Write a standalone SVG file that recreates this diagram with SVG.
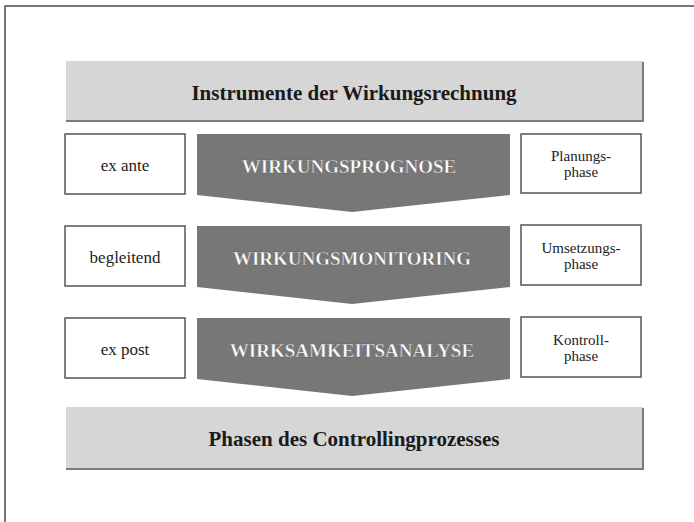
<svg xmlns="http://www.w3.org/2000/svg" width="694" height="522" viewBox="0 0 694 522">
<style>
  .frame { fill: none; stroke: #4a4a4a; stroke-width: 1.5; }
  .banner { fill: #d6d6d6; }
  .shadow { fill: none; stroke: #7a7a7a; stroke-width: 2; }
  .btext { font-family: "Liberation Serif", "Times New Roman", serif; font-weight: bold; font-size: 21px; fill: #1a1a1a; text-anchor: middle; dominant-baseline: central; }
  .box { fill: #ffffff; stroke: #555555; stroke-width: 1.5; }
  .ltext { font-family: "Liberation Serif", "Times New Roman", serif; font-size: 17px; fill: #222222; text-anchor: middle; dominant-baseline: central; }
  .rtext { font-family: "Liberation Serif", "Times New Roman", serif; font-size: 15px; fill: #222222; text-anchor: middle; dominant-baseline: central; }
  .arrow { fill: #777777; }
  .atext { font-family: "Liberation Serif", "Times New Roman", serif; font-weight: bold; font-size: 19px; fill: #ffffff; stroke: #5a5a5a; stroke-width: 0.4; text-anchor: middle; dominant-baseline: central; }
</style>
<rect width="694" height="522" fill="#ffffff"/>
<rect class="frame" x="5" y="6" width="720" height="540"/>

<g id="banner-top">
  <rect class="banner" x="66" y="61" width="577" height="60"/>
  <polyline class="shadow" points="643,62 643,121 66,121"/>
  <text class="btext" x="354" y="93">Instrumente der Wirkungsrechnung</text>
</g>

<g id="ex-ante">
  <rect class="box" x="65" y="134" width="120" height="60"/>
  <text class="ltext" x="125" y="165">ex ante</text>
</g>
<g id="wirkungsprognose">
  <polygon class="arrow" points="197,134 510,134 510,195 352,212 197,195"/>
  <text class="atext" x="349" y="166">WIRKUNGSPROGNOSE</text>
</g>
<g id="planungsphase">
  <rect class="box" x="521" y="134" width="120" height="59"/>
  <text class="rtext" x="581" y="156">Planungs-</text>
  <text class="rtext" x="581" y="172">phase</text>
</g>

<g id="begleitend">
  <rect class="box" x="65" y="226" width="120" height="60"/>
  <text class="ltext" x="125" y="257">begleitend</text>
</g>
<g id="wirkungsmonitoring">
  <polygon class="arrow" points="197,226 510,226 510,287 352,304 197,287"/>
  <text class="atext" x="352" y="258">WIRKUNGSMONITORING</text>
</g>
<g id="umsetzungsphase">
  <rect class="box" x="521" y="225" width="120" height="60"/>
  <text class="rtext" x="581" y="248">Umsetzungs-</text>
  <text class="rtext" x="581" y="264">phase</text>
</g>

<g id="ex-post">
  <rect class="box" x="65" y="318" width="120" height="60"/>
  <text class="ltext" x="125" y="349">ex post</text>
</g>
<g id="wirksamkeitsanalyse">
  <polygon class="arrow" points="197,318 510,318 510,379 352,396 197,379"/>
  <text class="atext" x="352" y="350">WIRKSAMKEITSANALYSE</text>
</g>
<g id="kontrollphase">
  <rect class="box" x="521" y="317" width="120" height="60"/>
  <text class="rtext" x="581" y="340">Kontroll-</text>
  <text class="rtext" x="581" y="356">phase</text>
</g>

<g id="banner-bottom">
  <rect class="banner" x="66" y="407" width="577" height="62"/>
  <polyline class="shadow" points="643,408 643,469 66,469"/>
  <text class="btext" x="354" y="439">Phasen des Controllingprozesses</text>
</g>
</svg>
